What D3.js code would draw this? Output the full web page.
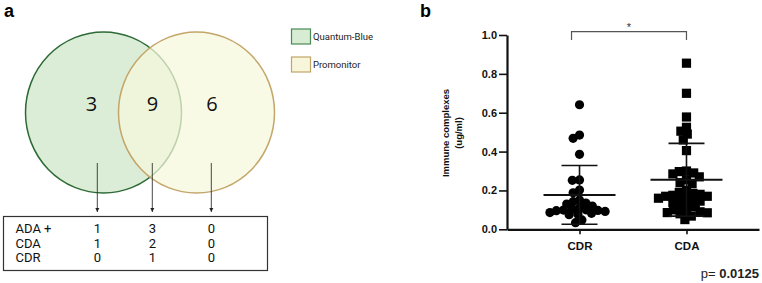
<!DOCTYPE html>
<html><head><meta charset="utf-8">
<script src="https://cdn.jsdelivr.net/npm/d3@7"></script>
<style>
html,body{margin:0;padding:0;background:#fff;}
svg{display:block;}
</style></head>
<body>
<svg id="c" width="762" height="283"></svg>
<script>
// ---------- DATA ----------
const vennSets = ["Quantum-Blue", "Promonitor"];
const vennCounts = [3, 9, 6];            // only QB, both, only Promonitor
const tableRows = ["ADA +", "CDA", "CDR"];
const tableValues = [[1, 3, 0], [1, 2, 0], [0, 1, 0]];

const groups = ["CDR", "CDA"];
const cdrValues = [0.641, 0.485, 0.468, 0.386, 0.254, 0.252, 0.202, 0.188, 0.151, 0.142,
  0.135, 0.13, 0.12, 0.105, 0.10, 0.099, 0.097, 0.096, 0.092, 0.086, 0.082, 0.077, 0.075,
  0.048, 0.034, 0.11];
const cdaValues = [0.855, 0.70, 0.578, 0.525, 0.505, 0.49, 0.46, 0.405, 0.30, 0.297, 0.29,
  0.285, 0.27, 0.255, 0.24, 0.235, 0.20, 0.19, 0.185, 0.18, 0.175, 0.17, 0.17, 0.165, 0.16,
  0.155, 0.15, 0.145, 0.137, 0.13, 0.12, 0.116, 0.10, 0.095, 0.09, 0.086, 0.085, 0.08,
  0.068, 0.05];
const groupMeans = [0.177, 0.255];
const groupSDs = [0.151, 0.187];
const yTicks = [0, 0.2, 0.4, 0.6, 0.8, 1.0];
const yTitle = ["Immune complexes", "(ug/ml)"];
const pText = ["p=", "0.0125"];

// ---------- PANEL A ----------
const svg = d3.select("#c");
const a = svg.append("g");
a.append("text").attr("x", 4).attr("y", 17).text("a")
  .style("font-family", "Liberation Sans, Arial, sans-serif").style("font-weight", "bold").style("font-size", "18px");

const circles = [
  {cx: 103.5, cy: 112.5, rx: 78, ry: 80.5, fill: "#dbedd6", fo: 1, stroke: "#2d6a36"},
  {cx: 196.5, cy: 112.5, rx: 78, ry: 80.5, fill: "#f6f8dc", fo: 0.72, stroke: "#c4a66a"}
];
a.selectAll("ellipse.v").data(circles).join("ellipse").attr("class", "v")
  .attr("cx", d => d.cx).attr("cy", d => d.cy).attr("rx", d => d.rx).attr("ry", d => d.ry)
  .attr("fill", d => d.fill).attr("fill-opacity", d => d.fo)
  .attr("stroke", d => d.stroke).attr("stroke-width", 1.5);

const colX = d3.scaleOrdinal().domain([0, 1, 2]).range([91.5, 152.5, 212]);
a.selectAll("text.cnt").data(vennCounts).join("text").attr("class", "cnt")
  .attr("x", (d, i) => colX(i)).attr("y", 111).attr("text-anchor", "middle")
  .style("font-family", "Open Sans, sans-serif").style("font-size", "20px").attr("fill", "#111")
  .text(d => d);

// arrows
const defs = svg.append("defs");
defs.append("marker").attr("id", "ah").attr("viewBox", "0 0 10 10").attr("refX", 10).attr("refY", 5)
  .attr("markerWidth", 5).attr("markerHeight", 6).attr("orient", "auto")
  .append("path").attr("d", "M0,0L10,5L0,10z").attr("fill", "#222");
const arrowX = [97.3, 152.3, 211.3];
a.selectAll("line.ar").data(arrowX).join("line").attr("class", "ar")
  .attr("x1", d => d).attr("x2", d => d).attr("y1", 163).attr("y2", 212)
  .attr("stroke", "#333").attr("stroke-width", 0.9).attr("marker-end", "url(#ah)");

// table
a.append("rect").attr("x", 3.5).attr("y", 216.5).attr("width", 264).attr("height", 54)
  .attr("fill", "#fff").attr("stroke", "#333").attr("stroke-width", 1.2);
const rowY = d3.scalePoint().domain(tableRows).range([233, 262]);
const tf = "Roboto, Liberation Sans, sans-serif";
a.selectAll("text.rl").data(tableRows).join("text").attr("class", "rl")
  .attr("x", 15.5).attr("y", d => rowY(d)).text(d => d)
  .style("font-family", tf).style("font-size", "13px").attr("fill", "#111");
tableRows.forEach((r, ri) => {
  a.selectAll("text.tv" + ri).data(tableValues[ri]).join("text").attr("class", "tv" + ri)
    .attr("x", (d, i) => arrowX[i]).attr("y", rowY(r)).attr("text-anchor", "middle")
    .style("font-family", tf).style("font-size", "13px").attr("fill", "#111").text(d => d);
});

// legend
const legY = d3.scalePoint().domain(vennSets).range([36.5, 64.5]);
a.selectAll("rect.lg").data(vennSets).join("rect").attr("class", "lg")
  .attr("x", 291.5).attr("y", d => legY(d) - 7.5).attr("width", 19).attr("height", 15)
  .attr("fill", (d, i) => i === 0 ? "#d8ecd4" : "#f7f5da")
  .attr("stroke", (d, i) => i === 0 ? "#4a8a55" : "#c1a66a").attr("stroke-width", 1.2);
a.selectAll("text.lg").data(vennSets).join("text").attr("class", "lg")
  .attr("x", 313).attr("y", d => legY(d) + 3.3).text(d => d)
  .style("font-family", tf).style("font-size", "9.5px").attr("fill", "#222");

// ---------- PANEL B ----------
const b = svg.append("g");
b.append("text").attr("x", 420).attr("y", 17).text("b")
  .style("font-family", "Liberation Sans, Arial, sans-serif").style("font-weight", "bold").style("font-size", "18px");

const y = d3.scaleLinear().domain([0, 1]).range([229.3, 35]);
const x = d3.scalePoint().domain(groups).range([507, 759]).padding(0.678);
const bf = "Liberation Sans, Arial, sans-serif";

const yAx = b.append("g").attr("transform", "translate(507,0)")
  .call(d3.axisLeft(y).tickValues(yTicks).tickFormat(d3.format(".1f")).tickSize(8).tickSizeOuter(0).tickPadding(2));
yAx.select(".domain").attr("stroke", "#111").attr("stroke-width", 2.2);
yAx.selectAll(".tick line").attr("stroke", "#111").attr("stroke-width", 1.6);
yAx.selectAll(".tick text").style("font-family", bf).style("font-weight", "bold").style("font-size", "11px").attr("fill", "#111");

const xAx = b.append("g").attr("transform", "translate(0,229.3)")
  .call(d3.axisBottom(x).tickSize(5).tickSizeOuter(0).tickPadding(8));
xAx.select(".domain").attr("stroke", "#111").attr("stroke-width", 2.2);
xAx.selectAll(".tick line").attr("stroke", "#111").attr("stroke-width", 1.6);
xAx.selectAll(".tick text").style("font-family", bf).style("font-weight", "bold").style("font-size", "11.5px").attr("fill", "#111");

// y title
const yt = b.append("text").attr("transform", "translate(449,133) rotate(-90)").attr("text-anchor", "middle")
  .style("font-family", bf).style("font-weight", "bold").style("font-size", "9.5px").attr("fill", "#111");
yt.selectAll("tspan").data(yTitle).join("tspan").attr("x", 0).attr("dy", (d, i) => i === 0 ? 0 : 13).text(d => d);

// beeswarm (GraphPad-like spreading with slight overlap)
function swarm(vals, cx, diam) {
  const placed = [];
  const sorted = vals.map(v => ({v, py: y(v)})).sort((p, q) => q.v - p.v);
  sorted.forEach(p => {
    let best = 0;
    for (let k = 0; k < 200; k++) {
      const off = (k % 2 === 0 ? 1 : -1) * Math.ceil(k / 2) * 0.8;
      const px = cx + off;
      const ok = placed.every(o => Math.hypot(o.px - px, o.py - p.py) >= diam);
      if (ok) { best = off; break; }
    }
    p.px = cx + best;
    placed.push(p);
  });
  return placed;
}
const cdrPts = swarm(cdrValues, x("CDR"), 6.6);
const cdaPts = swarm(cdaValues, x("CDA"), 6.8);

b.selectAll("circle.pt").data(cdrPts).join("circle").attr("class", "pt")
  .attr("cx", d => d.px).attr("cy", d => d.py).attr("r", 4.6).attr("fill", "#000");
b.selectAll("rect.pt").data(cdaPts).join("rect").attr("class", "pt")
  .attr("x", d => d.px - 4.6).attr("y", d => d.py - 4.6).attr("width", 9.2).attr("height", 9.2).attr("fill", "#000");

// mean / SD
groups.forEach((g, i) => {
  const cx = x(g), m = groupMeans[i], s = groupSDs[i];
  const gg = b.append("g").attr("stroke", "#111").attr("stroke-width", 1.6);
  gg.append("line").attr("x1", cx).attr("x2", cx).attr("y1", y(m - s)).attr("y2", y(m + s));
  gg.append("line").attr("x1", cx - 36).attr("x2", cx + 36).attr("y1", y(m)).attr("y2", y(m)).attr("stroke-width", 2);
  gg.append("line").attr("x1", cx - 18).attr("x2", cx + 18).attr("y1", y(m + s)).attr("y2", y(m + s));
  gg.append("line").attr("x1", cx - 18).attr("x2", cx + 18).attr("y1", y(m - s)).attr("y2", y(m - s));
});

// significance bracket
b.append("path").attr("d", `M${x("CDR") - 8},40 V31.7 H${x("CDA")} V40`)
  .attr("fill", "none").attr("stroke", "#555").attr("stroke-width", 1.2);
b.append("text").attr("x", (x("CDR") - 8 + x("CDA")) / 2).attr("y", 31).attr("text-anchor", "middle")
  .style("font-family", bf).style("font-size", "11px").attr("fill", "#333").text("*");

// p value
const pv = b.append("text").attr("x", 759).attr("y", 278).attr("text-anchor", "end")
  .style("font-family", bf).style("font-size", "13px").attr("fill", "#222");
pv.append("tspan").text(pText[0] + " ");
pv.append("tspan").style("font-weight", "bold").text(pText[1]);
</script>
</body></html>
